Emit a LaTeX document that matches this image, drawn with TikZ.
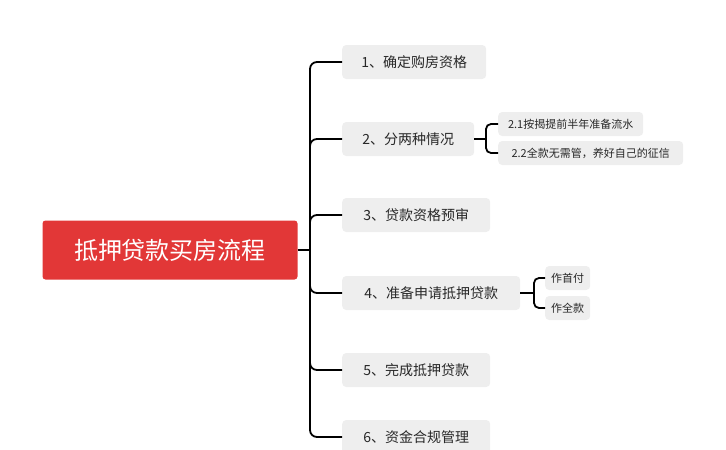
\documentclass[tikz,border=0pt]{standalone}
\usepackage{fontspec}
\setmainfont{Noto Sans CJK SC}
\begin{document}
\begin{tikzpicture}[x=1pt,y=-1pt,
  root/.style={fill={rgb,255:red,226;green,55;blue,55},text=white,rounded corners=3pt,minimum width=255pt,minimum height=59pt,font=\fontsize{24}{26}\selectfont,inner sep=0},
  kid/.style={fill={rgb,255:red,238;green,238;blue,238},rounded corners=4pt,minimum height=34pt,font=\fontsize{14}{16}\selectfont,text={rgb,255:red,40;green,40;blue,40},anchor=west,inner xsep=0pt},
  sub/.style={fill={rgb,255:red,238;green,238;blue,238},rounded corners=4pt,minimum height=24pt,font=\fontsize{11}{13}\selectfont,text={rgb,255:red,40;green,40;blue,40},anchor=west,inner xsep=0pt},
  ln/.style={draw=black,line width=1.8pt,rounded corners=7pt}]
\useasboundingbox (0,0) rectangle (726,450);
\node[root] (r) at (170,250) {抵押贷款买房流程};
\node[kid,minimum width=144pt] (c1) at (342,62) {1、确定购房资格};
\node[kid,minimum width=132pt] (c2) at (342,139) {2、分两种情况};
\node[kid,minimum width=148pt] (c3) at (342,215) {3、贷款资格预审};
\node[kid,minimum width=178pt] (c4) at (342,293) {4、准备申请抵押贷款};
\node[kid,minimum width=148pt] (c5) at (342,370) {5、完成抵押贷款};
\node[kid,minimum width=148pt] (c6) at (342,437) {6、资金合规管理};
\coordinate (t) at (310,250);
\draw[ln] (r.east) -- (t);
\foreach \c in {c1,c2,c3,c4,c5,c6}{\draw[ln] (t) |- (\c.west);}
\node[sub,minimum width=145pt] (s1) at (498,124) {2.1按揭提前半年准备流水};
\node[sub,minimum width=185pt] (s2) at (498,153) {2.2全款无需管，养好自己的征信};
\coordinate (b2) at (486,139);
\draw[ln] (c2.east) -- (b2);
\draw[ln,rounded corners=5pt] (b2) |- (s1.west);
\draw[ln,rounded corners=5pt] (b2) |- (s2.west);
\node[sub,minimum width=45pt] (s3) at (545,278) {作首付};
\node[sub,minimum width=45pt] (s4) at (545,308) {作全款};
\coordinate (b4) at (534,293);
\draw[ln] (c4.east) -- (b4);
\draw[ln,rounded corners=5pt] (b4) |- (s3.west);
\draw[ln,rounded corners=5pt] (b4) |- (s4.west);
\end{tikzpicture}
\end{document}
